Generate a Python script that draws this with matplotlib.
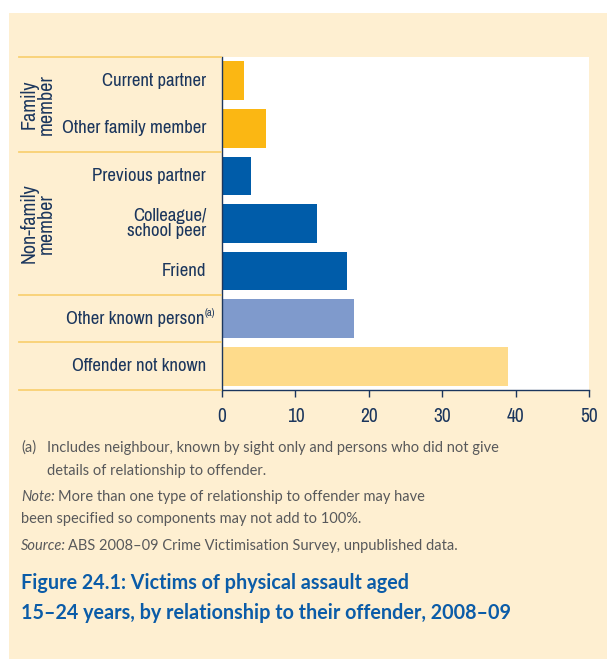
import matplotlib
matplotlib.use("Agg")
import matplotlib.pyplot as plt
from matplotlib.patches import Rectangle
from matplotlib.lines import Line2D
import matplotlib.transforms as mtransforms
from matplotlib import font_manager as fm

categories = ["Current partner", "Other family member", "Previous partner",
              "Colleague/\nschool peer", "Friend", "Other known person",
              "Offender not known"]
values = [3, 6, 4, 13, 17, 18, 39]
bar_colors = ["#FBB713", "#FBB713", "#005CA9", "#005CA9", "#005CA9",
              "#7F9ACC", "#FEDB8B"]
groups = [("Family\nmember", -0.5, 1.5), ("Non-family\nmember", 1.5, 4.5)]
separators = [-0.5, 1.5, 4.5, 5.5, 6.5]
xticks = [0, 10, 20, 30, 40, 50]


def find_condensed(weight_ok):
    best = None
    for f in fm.fontManager.ttflist:
        nm = f.name.lower()
        st = str(f.stretch).lower()
        cond = ("narrow" in nm or "condensed" in nm or
                st in ("condensed", "semi-condensed", "extra-condensed"))
        if not cond or f.style != "normal":
            continue
        w = f.weight if isinstance(f.weight, int) else 400
        if not weight_ok(w):
            continue
        score = 0
        if "noto sans" in nm and "mono" not in nm:
            score += 3
        if st == "semi-condensed":
            score += 2
        if st == "condensed":
            score += 1
        if "narrow" in nm:
            score += 2
        if best is None or score > best[0]:
            best = (score, f.fname)
    return best[1] if best else None


reg_path = find_condensed(lambda w: 380 <= w <= 420)


def condprops(size):
    if reg_path:
        return fm.FontProperties(fname=reg_path, size=size)
    return fm.FontProperties(family="Lato", size=size - 1.5)


NAVY = "#1B365D"
CREAM = "#FEEFD1"
SEP = "#F9D173"

W, H = 607, 659
fig = plt.figure(figsize=(W / 100, H / 100), dpi=100)
fig.patch.set_facecolor("white")
fig.add_artist(Rectangle((9 / W, 0), 1 - 9 / W, 1 - 13 / H,
                         transform=fig.transFigure, facecolor=CREAM,
                         edgecolor="none", zorder=0))

ax = fig.add_axes([222 / W, 1 - 390 / H, (589 - 222) / W, (390 - 57) / H])
ax.set_facecolor("white")
ypos = list(range(len(categories)))
ax.barh(ypos, values, height=0.815, color=bar_colors, zorder=2)
ax.set_ylim(6.5, -0.5)
ax.set_xlim(0, 50)
ax.set_xticks(xticks)
ax.set_xticklabels([str(t) for t in xticks], fontproperties=condprops(14),
                   color=NAVY)
ax.tick_params(axis="x", direction="out", length=5, width=1, color=NAVY, pad=7)
ax.set_yticks([])
for s in ["top", "right"]:
    ax.spines[s].set_visible(False)
for s in ["left", "bottom"]:
    ax.spines[s].set_color(NAVY)
    ax.spines[s].set_linewidth(1)
ax.spines["left"].set_zorder(3)

trans = mtransforms.blended_transform_factory(fig.transFigure, ax.transData)
for y in separators:
    fig.add_artist(Line2D([19 / W, 221 / W], [y, y], transform=trans,
                          color=SEP, lw=1.3, zorder=1))

for i, lab in enumerate(categories):
    if lab == "Other known person":
        fig.text(204 / W, i, lab, transform=trans, ha="right", va="center",
                 fontproperties=condprops(13.5), color=NAVY)
        fig.text(205 / W, i - 0.12, "(a)", transform=trans, ha="left",
                 va="center", fontproperties=condprops(7.5), color=NAVY)
    else:
        fig.text(206 / W, i, lab, transform=trans, ha="right", va="center",
                 fontproperties=condprops(13.5), color=NAVY, linespacing=0.95)

for lab, y0, y1 in groups:
    fig.text(38 / W, (y0 + y1) / 2, lab, transform=trans, ha="center",
             va="center", rotation=90, fontproperties=condprops(14.5),
             color=NAVY, linespacing=0.88)

GRAY = "#58595B"
FN = ["Lato", "DejaVu Sans"]
fs = 10.5
fig.text(21 / W, 1 - 448 / H, "(a)", ha="left", va="center", family=FN,
         fontsize=fs, color=GRAY)
fig.text(47 / W, 1 - 448 / H,
         "Includes neighbour, known by sight only and persons who did not give",
         ha="left", va="center", family=FN, fontsize=fs, color=GRAY)
fig.text(47 / W, 1 - 471 / H, "details of relationship to offender.",
         ha="left", va="center", family=FN, fontsize=fs, color=GRAY)
fig.text(21 / W, 1 - 497 / H, "Note:", ha="left", va="center", family=FN,
         fontsize=fs, color=GRAY, style="italic")
fig.text(58 / W, 1 - 497 / H,
         "More than one type of relationship to offender may have",
         ha="left", va="center", family=FN, fontsize=fs, color=GRAY)
fig.text(21 / W, 1 - 519 / H,
         "been specified so components may not add to 100%.",
         ha="left", va="center", family=FN, fontsize=fs, color=GRAY)
fig.text(21 / W, 1 - 546 / H, "Source:", ha="left", va="center", family=FN,
         fontsize=fs, color=GRAY, style="italic")
fig.text(68 / W, 1 - 546 / H,
         "ABS 2008–09 Crime Victimisation Survey, unpublished data.",
         ha="left", va="center", family=FN, fontsize=fs, color=GRAY)

TITLE = "#0B5CA8"
fig.text(21 / W, 1 - 583 / H, "Figure 24.1: Victims of physical assault aged",
         ha="left", va="center", family=FN, fontsize=14.2, color=TITLE,
         weight="bold")
fig.text(21 / W, 1 - 613 / H,
         "15–24 years, by relationship to their offender, 2008–09",
         ha="left", va="center", family=FN, fontsize=14.2, color=TITLE,
         weight="bold")

fig.savefig("out.png", dpi=100)
